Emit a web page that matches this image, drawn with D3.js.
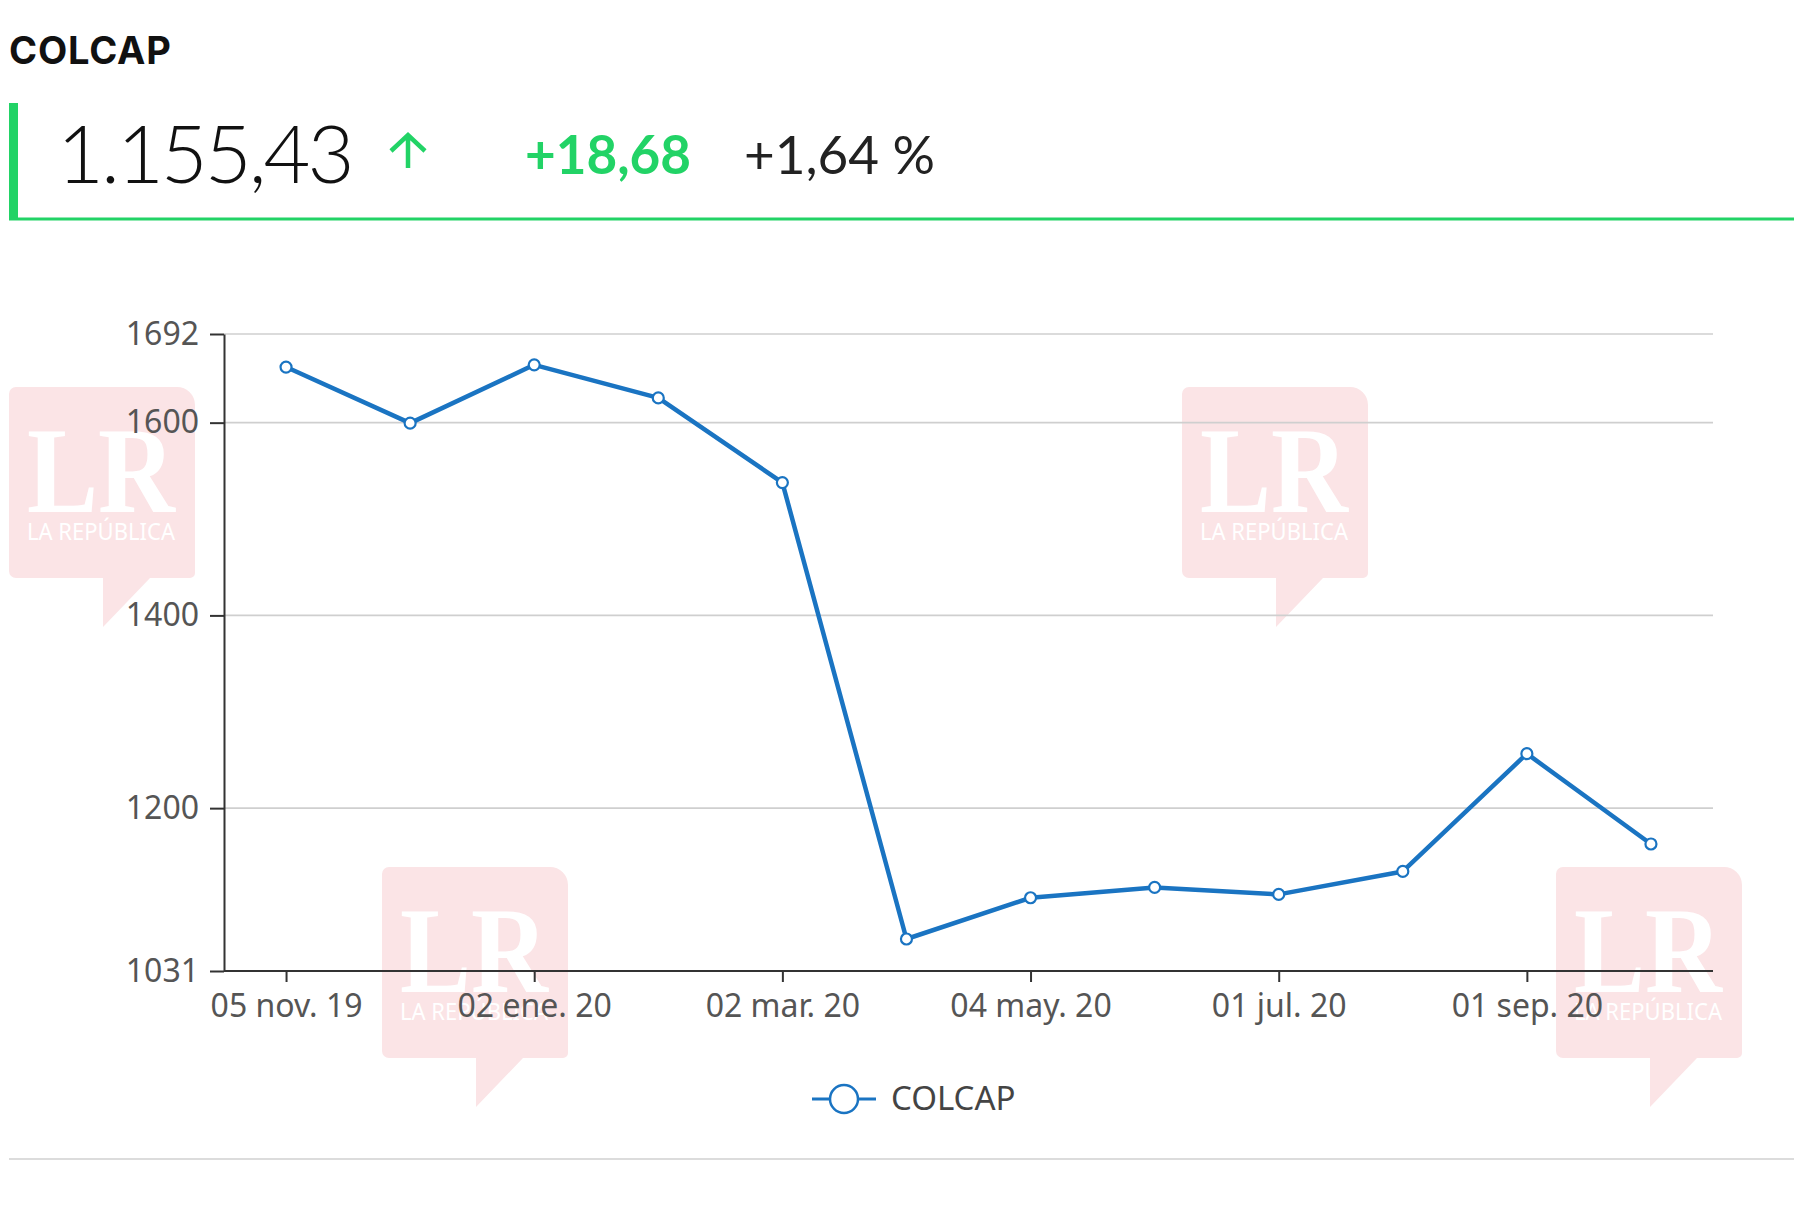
<!DOCTYPE html>
<html>
<head>
<meta charset="utf-8">
<script src="https://cdn.jsdelivr.net/npm/d3@7"></script>
<style>
  html, body { margin: 0; padding: 0; background: #fff; }
  svg { display: block; }
</style>
</head>
<body>
<div id="chart"></div>
<script>
// COLCAP index, monthly closes
const categories = [
  "05 nov. 19", "04 dic. 19", "02 ene. 20", "03 feb. 20", "02 mar. 20", "01 abr. 20",
  "04 may. 20", "01 jun. 20", "01 jul. 20", "03 ago. 20", "01 sep. 20", "01 oct. 20",
];
const colcap = [1657.7, 1599.5, 1660.0, 1625.7, 1537.8, 1064.2, 1107.0, 1117.7, 1110.5, 1134.3, 1256.5, 1162.8];
const yTicks = [1031, 1200, 1400, 1600, 1692];
const xTickLabels = ["05 nov. 19", "02 ene. 20", "02 mar. 20", "04 may. 20", "01 jul. 20", "01 sep. 20"];

const headerTitle = "COLCAP";
const lastValue = "1.155,43";
const change = "+18,68";
const changePct = "+1,64 %";

(function () {
  const W = 1794, H = 1210;
  const green = "#22d366";
  const blue = "#1a74c2";
  const axisFont = "'Noto Sans', 'Open Sans', sans-serif";

  const svg = d3.select("#chart").append("svg")
    .attr("width", W).attr("height", H)
    .attr("viewBox", [0, 0, W, H]);

  svg.append("rect").attr("width", W).attr("height", H).attr("fill", "#fff");

  // -------------------------------------------------------------------------
  // Watermarks (drawn under the chart)
  // -------------------------------------------------------------------------
  const watermarkPos = [[9, 387], [1182, 387], [382, 867], [1556, 867]];
  const bw = 186, bh = 191;

  function bubblePath(x0, y0) {
    const p = d3.path();
    const r1 = 7, r2 = 18, r3 = 5;
    p.moveTo(x0 + r1, y0);
    p.lineTo(x0 + bw - r2, y0);
    p.arcTo(x0 + bw, y0, x0 + bw, y0 + r2, r2);
    p.lineTo(x0 + bw, y0 + bh - r3);
    p.arcTo(x0 + bw, y0 + bh, x0 + bw - r3, y0 + bh, r3);
    p.lineTo(x0 + 141, y0 + bh);
    p.lineTo(x0 + 94, y0 + bh + 49);
    p.lineTo(x0 + 94, y0 + bh);
    p.lineTo(x0 + r1, y0 + bh);
    p.arcTo(x0, y0 + bh, x0, y0 + bh - r1, r1);
    p.lineTo(x0, y0 + r1);
    p.arcTo(x0, y0, x0 + r1, y0, r1);
    p.closePath();
    return p.toString();
  }

  const wm = svg.append("g").selectAll("g").data(watermarkPos).join("g");
  wm.append("path").attr("d", (d) => bubblePath(d[0], d[1])).attr("fill", "#fbe4e6");
  wm.append("text")
    .attr("x", (d) => d[0] + 18).attr("y", (d) => d[1] + 125)
    .attr("textLength", 148).attr("lengthAdjust", "spacingAndGlyphs")
    .attr("font-family", "'Liberation Serif', serif").attr("font-weight", 700)
    .attr("font-size", 122).attr("fill", "#fff")
    .text("LR");
  wm.append("text")
    .attr("x", (d) => d[0] + 18).attr("y", (d) => d[1] + 153)
    .attr("textLength", 148).attr("lengthAdjust", "spacingAndGlyphs")
    .attr("font-family", axisFont).attr("font-size", 23).attr("fill", "#fff")
    .text("LA REPÚBLICA");

  // -------------------------------------------------------------------------
  // Header
  // -------------------------------------------------------------------------
  const headFont = "Lato, 'Open Sans', sans-serif";
  svg.append("text").attr("x", 9).attr("y", 64)
    .attr("font-family", "Inter, sans-serif").attr("font-weight", 700)
    .attr("font-size", 38).attr("letter-spacing", 0.8).attr("fill", "#111").text(headerTitle);

  svg.append("rect").attr("x", 9).attr("y", 103).attr("width", 9).attr("height", 117).attr("fill", green);
  svg.append("line").attr("x1", 9).attr("x2", W).attr("y1", 219).attr("y2", 219)
    .attr("stroke", green).attr("stroke-width", 3);

  svg.append("text").attr("x", 57).attr("y", 183)
    .attr("font-family", headFont).attr("font-weight", 300)
    .attr("font-size", 81).attr("letter-spacing", -3).attr("fill", "#111").text(lastValue);

  svg.append("path")
    .attr("d", "M408,168V136M391,151L408,135L425,151")
    .attr("fill", "none").attr("stroke", green).attr("stroke-width", 4.5);

  svg.append("text").attr("x", 525).attr("y", 174)
    .attr("font-family", headFont).attr("font-weight", 700)
    .attr("font-size", 53).attr("fill", green).text(change);

  svg.append("text").attr("x", 744).attr("y", 174)
    .attr("font-family", headFont).attr("font-weight", 400)
    .attr("font-size", 53).attr("fill", "#222").text(changePct);

  // -------------------------------------------------------------------------
  // Line chart
  // -------------------------------------------------------------------------
  const x = d3.scalePoint().domain(categories).range([224, 1713]).padding(0.5);
  const y = d3.scaleLinear().domain([1031, 1692]).range([971, 334]);

  const g = svg.append("g");

  g.append("g").selectAll("line").data(yTicks.filter((t) => t !== 1031)).join("line")
    .attr("x1", 224).attr("x2", 1713)
    .attr("y1", (d) => y(d)).attr("y2", (d) => y(d))
    .attr("stroke", "#cfcfcf").attr("stroke-width", 1.6);

  const yAxis = g.append("g").attr("transform", "translate(224,0)")
    .call(d3.axisLeft(y).tickValues(yTicks).tickFormat(d3.format("d"))
      .tickSize(14).tickSizeOuter(0).tickPadding(11));

  const xAxis = g.append("g").attr("transform", "translate(0,971)")
    .call(d3.axisBottom(x).tickValues(xTickLabels).tickSize(11).tickSizeOuter(0).tickPadding(12));
  xAxis.select(".domain").attr("d", "M224,0H1713");

  [yAxis, xAxis].forEach((a) => {
    a.select(".domain").attr("stroke", "#333").attr("stroke-width", 2);
    a.selectAll(".tick line").attr("stroke", "#333").attr("stroke-width", 2);
    a.selectAll(".tick text")
      .attr("font-family", axisFont).attr("font-size", 32).attr("fill", "#555");
  });

  const line = d3.line().x((d, i) => x(categories[i])).y((d) => y(d));

  g.append("path").datum(colcap)
    .attr("d", line)
    .attr("fill", "none").attr("stroke", blue).attr("stroke-width", 4.5)
    .attr("stroke-linejoin", "round");

  g.append("g").selectAll("circle").data(colcap).join("circle")
    .attr("cx", (d, i) => x(categories[i])).attr("cy", (d) => y(d))
    .attr("r", 5.5).attr("fill", "#fff")
    .attr("stroke", blue).attr("stroke-width", 2.2);

  // Legend
  const leg = svg.append("g");
  leg.append("line").attr("x1", 812).attr("x2", 876).attr("y1", 1099).attr("y2", 1099)
    .attr("stroke", blue).attr("stroke-width", 3);
  leg.append("circle").attr("cx", 844).attr("cy", 1099).attr("r", 14)
    .attr("fill", "#fff").attr("stroke", blue).attr("stroke-width", 2.5);
  leg.append("text").attr("x", 891).attr("y", 1110)
    .attr("font-family", axisFont).attr("font-size", 33).attr("fill", "#444")
    .text(headerTitle);

  svg.append("line").attr("x1", 9).attr("x2", W).attr("y1", 1159).attr("y2", 1159)
    .attr("stroke", "#dcdcdc").attr("stroke-width", 2);
})();
</script>
</body>
</html>
